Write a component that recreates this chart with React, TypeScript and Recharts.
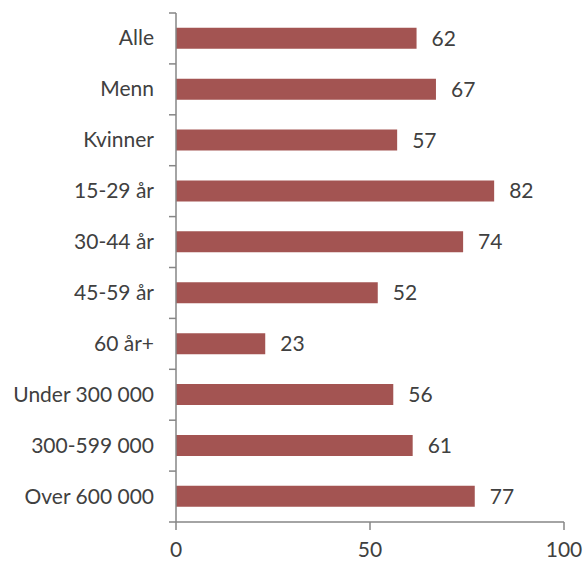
import React from 'react';
import { BarChart, Bar, XAxis, YAxis, LabelList } from 'recharts';

const categories = [
  'Alle',
  'Menn',
  'Kvinner',
  '15-29 år',
  '30-44 år',
  '45-59 år',
  '60 år+',
  'Under 300 000',
  '300-599 000',
  'Over 600 000',
];
const values = [62, 67, 57, 82, 74, 52, 23, 56, 61, 77];
const xTicks = [0, 50, 100];

const data = categories.map((name, i) => ({ name, value: values[i] }));

const FONT = 'Lato, "Open Sans", sans-serif';
const FS = 21;
const TEXT = '#404040';
const AXIS = '#868686';
const TOP = 13;
const XH = 39;
const HEIGHT = 561;
const BAND = (HEIGHT - TOP - XH) / categories.length;

const CategoryTick = (props: any) => {
  const { x, y, payload, index } = props;
  const last = index === categories.length - 1;
  return (
    <g>
      <line x1={x - 7} x2={x} y1={y - BAND / 2} y2={y - BAND / 2} stroke={AXIS} strokeWidth={1.5} />
      {last && (
        <line x1={x - 7} x2={x} y1={y + BAND / 2} y2={y + BAND / 2} stroke={AXIS} strokeWidth={1.5} />
      )}
      <text x={x - 22} y={y} dy={7} textAnchor="end" fill={TEXT} fontSize={FS} fontFamily={FONT}>
        {payload.value}
      </text>
    </g>
  );
};

export default function App() {
  return (
    <div style={{ position: 'absolute', left: 0, top: 0, background: '#fff' }}>
      <BarChart
        width={585}
        height={HEIGHT}
        data={data}
        layout="vertical"
        margin={{ top: TOP, right: 21, bottom: 0, left: 0 }}
        barCategoryGap="29%"
      >
        <XAxis
          type="number"
          domain={[0, 100]}
          ticks={xTicks}
          interval={0}
          stroke={AXIS}
          strokeWidth={1.5}
          tickSize={8}
          tick={{ fill: TEXT, fontSize: FS, fontFamily: FONT }}
          tickMargin={12}
          height={XH}
        />
        <YAxis
          type="category"
          dataKey="name"
          width={176}
          stroke={AXIS}
          strokeWidth={1.5}
          tickLine={false}
          tickSize={0}
          tickMargin={0}
          interval={0}
          tick={<CategoryTick />}
        />
        <Bar dataKey="value" fill="#A35452" isAnimationActive={false}>
          <LabelList
            dataKey="value"
            position="right"
            offset={15}
            fill={TEXT}
            fontSize={FS}
            fontFamily={FONT}
          />
        </Bar>
      </BarChart>
    </div>
  );
}
